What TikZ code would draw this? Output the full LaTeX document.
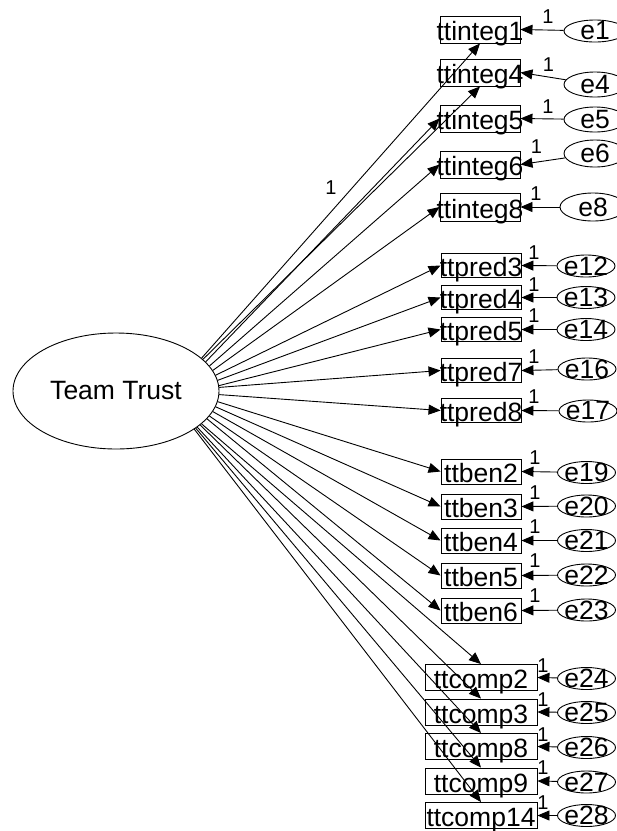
\documentclass[tikz,border=0pt]{standalone}
\usepackage{fontspec}
\setmainfont{Liberation Sans}
\usetikzlibrary{shapes.geometric, arrows.meta}

\begin{document}
\begin{tikzpicture}[x=1pt, y=-1pt,
            latent/.style={draw, ellipse, line width=0.9pt, inner sep=0pt, minimum width=206pt, minimum height=116pt, font=\fontsize{26.5}{27}\selectfont},
            obs/.style={draw, rectangle, line width=0.9pt, inner xsep=-5pt, inner ysep=0pt, minimum width=80pt, minimum height=25pt, text height=22pt, text depth=0pt, font=\fontsize{26.5}{27}\selectfont},
            err/.style={draw, ellipse, line width=0.9pt, inner xsep=-12pt, inner ysep=-12pt, minimum width=58pt, minimum height=22pt, font=\fontsize{26.5}{27}\selectfont},
            wt/.style={inner sep=0pt, font=\fontsize{20}{21}\selectfont},
            reg/.style={-{Triangle[length=12pt, width=10pt]}, line width=0.9pt}
        ]
            \path[fill=white, use as bounding box] (0,0) rectangle (617,831);
            \clip (0,0) rectangle (617,831);

            \node[latent] (trust) at (116,391) {Team Trust};

            % integrity items
            \node[obs, minimum height=27pt] (integ1) at (480,29.5) {ttinteg1};
            \node[obs, minimum height=27pt] (integ4) at (480,72.5) {ttinteg4};
            \node[obs, minimum height=27pt] (integ5) at (480,118.5) {ttinteg5};
            \node[obs, minimum height=27pt] (integ6) at (480,164.5) {ttinteg6};
            \node[obs, minimum height=28pt] (integ8) at (480,207) {ttinteg8};

            % predictability items
            \node[obs, minimum height=24pt] (pred3) at (481,265.5) {ttpred3};
            \node[obs, minimum height=24pt] (pred4) at (481,297.5) {ttpred4};
            \node[obs, minimum height=24pt] (pred5) at (481,329.5) {ttpred5};
            \node[obs, minimum height=24pt] (pred7) at (481,370.5) {ttpred7};
            \node[obs, minimum height=24pt] (pred8) at (481,410.5) {ttpred8};

            % benevolence items
            \node[obs] (ben2) at (481,471.5) {ttben2};
            \node[obs] (ben3) at (481,506.5) {ttben3};
            \node[obs] (ben4) at (481,540.5) {ttben4};
            \node[obs] (ben5) at (481,575.5) {ttben5};
            \node[obs] (ben6) at (481,610.5) {ttben6};

            % competence items
            \node[obs, minimum width=112pt, minimum height=26pt] (comp2) at (481,677.5) {ttcomp2};
            \node[obs, minimum width=112pt, minimum height=26pt] (comp3) at (481,712) {ttcomp3};
            \node[obs, minimum width=112pt, minimum height=26pt] (comp8) at (481,746.5) {ttcomp8};
            \node[obs, minimum width=112pt, minimum height=26pt] (comp9) at (481,781) {ttcomp9};
            \node[obs, minimum width=112pt, minimum height=26pt] (comp14) at (481,815.5) {ttcomp14};

            % error terms
            \node[err, minimum width=62pt] (e1) at (595,31) {e1};
            \node[err, minimum width=62pt, minimum height=25pt] (e4) at (595,84.5) {e4};
            \node[err, minimum width=62pt, minimum height=25pt] (e5) at (595,119.5) {e5};
            \node[err, minimum width=62pt, minimum height=27pt] (e6) at (595,153.5) {e6};
            \node[err, minimum width=66pt, minimum height=28pt] (e8) at (593,207) {e8};
            \node[err] (e12) at (586,266) {e12};
            \node[err] (e13) at (586,297.5) {e13};
            \node[err] (e14) at (586,329.5) {e14};
            \node[err] (e16) at (587,369) {e16};
            \node[err] (e17) at (588,411) {e17};
            \node[err] (e19) at (586.5,472.5) {e19};
            \node[err] (e20) at (586.5,506) {e20};
            \node[err] (e21) at (586.5,540.5) {e21};
            \node[err] (e22) at (586.5,575) {e22};
            \node[err] (e23) at (586.5,610) {e23};
            \node[err] (e24) at (586.5,678.5) {e24};
            \node[err] (e25) at (586.5,712.5) {e25};
            \node[err] (e26) at (586.5,747.5) {e26};
            \node[err] (e27) at (586.5,782) {e27};
            \node[err] (e28) at (586.5,815.5) {e28};

            % fixed weights
            \node[wt] (wtrust) at (331,188) {1};
            \node[wt] (w1) at (548,16.5) {1};
            \node[wt] (w4) at (548.5,65) {1};
            \node[wt] (w5) at (548,106.5) {1};
            \node[wt] (w6) at (536.5,146.5) {1};
            \node[wt] (w8) at (536,194) {1};
            \node[wt] (w12) at (534,252.5) {1};
            \node[wt] (w13) at (534,284.5) {1};
            \node[wt] (w14) at (534,316) {1};
            \node[wt] (w16) at (534,356.5) {1};
            \node[wt] (w17) at (534,397) {1};
            \node[wt] (w19) at (535,458) {1};
            \node[wt] (w20) at (535,493) {1};
            \node[wt] (w21) at (535,527) {1};
            \node[wt] (w22) at (535,561) {1};
            \node[wt] (w23) at (535,596) {1};
            \node[wt] (w24) at (543,666) {1};
            \node[wt] (w25) at (543,700) {1};
            \node[wt] (w26) at (543,734.5) {1};
            \node[wt] (w27) at (543,768) {1};
            \node[wt] (w28) at (543,803) {1};

            % loadings
            \draw[reg] (trust.21) -- (integ1.south);
            \draw[reg] (trust.20) -- (integ4.south);
            \draw[reg] (trust.18) -- (integ5.west);
            \draw[reg] (trust.15) -- (integ6.west);
            \draw[reg] (trust.12) -- (integ8.west);
            \draw[reg] (trust.9) -- (pred3.west);
            \draw[reg] (trust.6) -- (pred4.west);
            \draw[reg] (trust.3) -- (pred5.west);
            \draw[reg] (trust.2) -- (pred7.west);
            \draw[reg] (trust.-2) -- (pred8.west);
            \draw[reg] (trust.-6) -- (ben2.west);
            \draw[reg] (trust.-9) -- (ben3.west);
            \draw[reg] (trust.-12) -- (ben4.west);
            \draw[reg] (trust.-15) -- (ben5.west);
            \draw[reg] (trust.-17) -- (ben6.west);
            \draw[reg] (trust.-21) -- (comp2.north);
            \draw[reg] (trust.-22) -- (comp3.north);
            \draw[reg] (trust.-24) -- (comp8.north);
            \draw[reg] (trust.-25) -- (comp9.north);
            \draw[reg] (trust.-26) -- (comp14.north);

            % error paths
            \draw[reg] (e1) -- (integ1.east);
            \draw[reg] (e4) -- (integ4.east);
            \draw[reg] (e5) -- (integ5.east);
            \draw[reg] (e6) -- (integ6.east);
            \draw[reg] (e8) -- (integ8.east);
            \draw[reg] (e12) -- (pred3.east);
            \draw[reg] (e13) -- (pred4.east);
            \draw[reg] (e14) -- (pred5.east);
            \draw[reg] (e16) -- (pred7.east);
            \draw[reg] (e17) -- (pred8.east);
            \draw[reg] (e19) -- (ben2.east);
            \draw[reg] (e20) -- (ben3.east);
            \draw[reg] (e21) -- (ben4.east);
            \draw[reg] (e22) -- (ben5.east);
            \draw[reg] (e23) -- (ben6.east);
            \draw[reg] (e24) -- (comp2.east);
            \draw[reg] (e25) -- (comp3.east);
            \draw[reg] (e26) -- (comp8.east);
            \draw[reg] (e27) -- (comp9.east);
            \draw[reg] (e28) -- (comp14.east);
        \end{tikzpicture}
\end{document}
